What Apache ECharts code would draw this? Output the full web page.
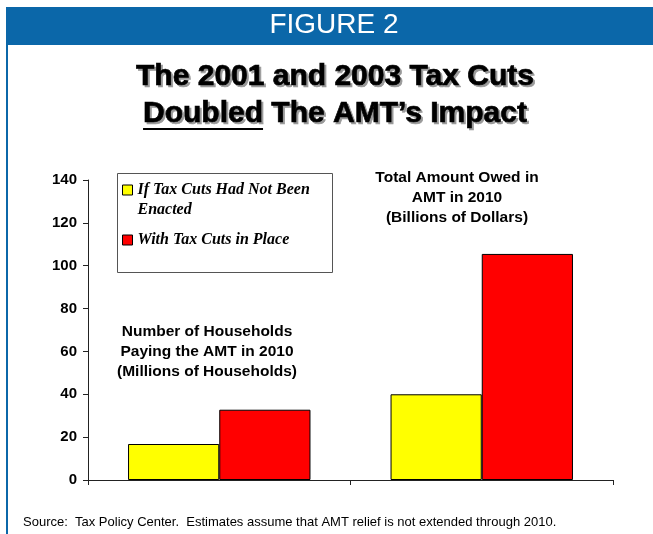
<!DOCTYPE html>
<html><head><meta charset="utf-8">
<script src="https://cdn.jsdelivr.net/npm/echarts@6/dist/echarts.min.js"></script>
<style>html,body{margin:0;padding:0;background:#fff}#c{width:653px;height:534px}</style>
</head><body><div id="c"></div>
<script>
const categories = ["Number of Households\nPaying the AMT in 2010\n(Millions of Households)", "Total Amount Owed in\nAMT in 2010\n(Billions of Dollars)"];
const seriesNames = ["If Tax Cuts Had Not Been Enacted", "With Tax Cuts in Place"];
const withoutCuts = [16.8, 40.0];
const withCuts = [32.8, 105.5];
const yTicks = [0, 20, 40, 60, 80, 100, 120, 140];
const figureLabel = "FIGURE 2";
const titleLine1 = "The 2001 and 2003 Tax Cuts";
const titleLine2a = "Doubled";
const titleLine2b = " The AMT\u2019s Impact";
const sourceText = "Source:  Tax Policy Center.  Estimates assume that AMT relief is not extended through 2010.";

const chart = echarts.init(document.getElementById('c'), null, {renderer: 'canvas'});
const BLUE = '#0b67a9';
const titleFont = 'bold 30px "Liberation Sans", Arial, sans-serif';
const mc = document.createElement('canvas').getContext('2d');
mc.font = titleFont;
const wFull = mc.measureText(titleLine2a + titleLine2b).width;
const wDoubled = mc.measureText(titleLine2a).width;
const tCx = 335;
const uStart = tCx - wFull / 2;

const titleText = (text, y, shadow) => ({
  type: 'text', x: tCx + (shadow ? 2 : 0), y: y + (shadow ? 2 : 0), z: shadow ? 1 : 2,
  style: {
    text: text, align: 'center', verticalAlign: 'middle',
    font: titleFont, fill: shadow ? '#9a9a9a' : '#000',
    stroke: shadow ? '#9a9a9a' : '#000', lineWidth: 0.7
  }
});

const annot = (text, x, y) => ({
  type: 'text', x: x, y: y,
  style: {
    text: text, align: 'center', verticalAlign: 'top',
    font: 'bold 15.5px "Liberation Sans", Arial, sans-serif', lineHeight: 20, fill: '#000'
  }
});

chart.setOption({
  animation: false,
  backgroundColor: '#fff',
  grid: {left: 88, right: 40, top: 180, bottom: 54},
  legend: {
    orient: 'vertical', left: 122, top: 160, padding: 0,
    itemWidth: 10, itemHeight: 10, itemGap: 10,
    icon: 'rect',
    data: [seriesNames[0], seriesNames[1]],
    formatter: function (n) { return n === seriesNames[0] ? '\nIf Tax Cuts Had Not Been\nEnacted' : n; },
    textStyle: {
      fontFamily: '"Liberation Serif", "Times New Roman", serif', fontStyle: 'italic', fontWeight: 'bold',
      fontSize: 16, lineHeight: 20, color: '#000'
    },
    itemStyle: {borderColor: '#000', borderWidth: 1}
  },
  xAxis: {
    type: 'category', data: categories,
    axisLine: {lineStyle: {color: '#222', width: 1}},
    axisTick: {show: true, length: 5, interval: 0, alignWithLabel: false, lineStyle: {color: '#222'}},
    axisLabel: {show: false},
    splitLine: {show: false}
  },
  yAxis: {
    type: 'value', min: yTicks[0], max: yTicks[yTicks.length - 1], interval: yTicks[1] - yTicks[0],
    axisLine: {show: true, lineStyle: {color: '#222', width: 1}},
    axisTick: {show: true, length: 5, lineStyle: {color: '#222'}},
    axisLabel: {margin: 11, color: '#000', fontFamily: '"Liberation Sans", Arial, sans-serif', fontWeight: 'bold', fontSize: 15},
    splitLine: {show: false}
  },
  series: [
    {name: seriesNames[0], type: 'bar', data: withoutCuts, barGap: '0%', barCategoryGap: '30.5%',
     itemStyle: {color: '#ffff00', borderColor: '#000', borderWidth: 1}},
    {name: seriesNames[1], type: 'bar', data: withCuts, barGap: '0%', barCategoryGap: '30.5%',
     itemStyle: {color: '#ff0000', borderColor: '#000', borderWidth: 1}}
  ],
  graphic: [
    {type: 'rect', shape: {x: 6, y: 7, width: 647, height: 38}, style: {fill: BLUE}, z: -1},
    {type: 'rect', shape: {x: 6, y: 7, width: 2, height: 527}, style: {fill: BLUE}, z: -1},
    {type: 'text', x: 334, y: 25, style: {text: figureLabel, align: 'center', verticalAlign: 'middle',
      font: '28px "Liberation Sans", Arial, sans-serif', fill: '#fff'}},
    titleText(titleLine1, 77, true),
    titleText(titleLine1, 77, false),
    titleText(titleLine2a + titleLine2b, 114, true),
    titleText(titleLine2a + titleLine2b, 114, false),
    {type: 'line', z: 2, shape: {x1: uStart, y1: 129, x2: uStart + wDoubled, y2: 129}, style: {stroke: '#000', lineWidth: 2}},
    {type: 'rect', shape: {x: 117.5, y: 173.5, width: 215, height: 99}, style: {fill: 'none', stroke: '#555', lineWidth: 1}},
    annot(categories[0], 207, 322),
    annot(categories[1], 457, 168),
    {type: 'text', x: 23, y: 522, style: {text: sourceText, verticalAlign: 'middle',
      font: '13px "Liberation Sans", Arial, sans-serif', fill: '#000'}}
  ]
});
</script></body></html>
